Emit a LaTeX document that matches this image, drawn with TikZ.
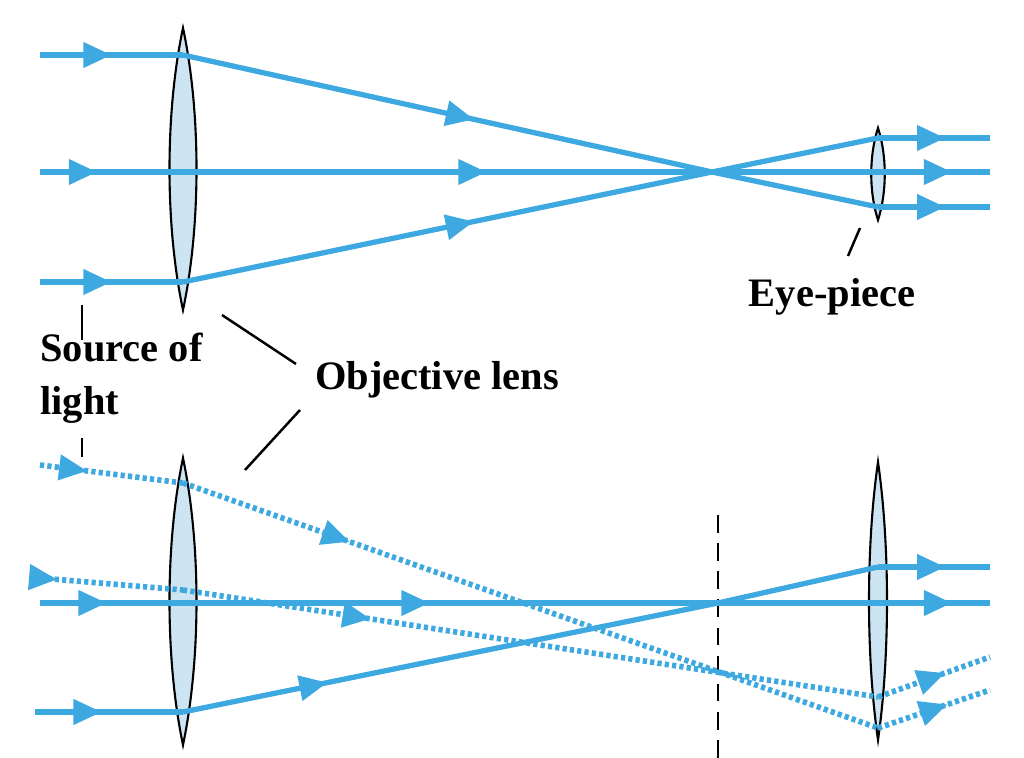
\documentclass[tikz,border=0pt]{standalone}
\usepackage{fontspec}
\setmainfont{Liberation Serif}
\usetikzlibrary{arrows.meta,decorations.markings}
\definecolor{raycol}{RGB}{62,168,224}
\definecolor{lensfill}{RGB}{205,228,242}
\tikzset{
    ray/.style={raycol,line width=1.5pt},
    dray/.style={raycol,line width=1.6pt,dash pattern=on 1.2pt off 0.9pt},
    arr/.style={postaction={decorate,decoration={markings,
        mark=at position #1 with {\arrow[raycol,solid]{Triangle[length=8pt,width=7pt]}}}}},
    lens/.style={draw=black,fill=lensfill,line width=0.6pt},
    lbl/.style={font=\fontsize{11.5}{13}\selectfont\bfseries,align=left},
    pointer/.style={black,line width=0.7pt}
}
\newcommand{\lensat}[4]{% x, top, bottom, half width
    \filldraw[lens] (#1,#2) .. controls (#1+#4,{#2+(#3-#2)*0.3}) and (#1+#4,{#2+(#3-#2)*0.7}) .. (#1,#3)
        .. controls (#1-#4,{#2+(#3-#2)*0.7}) and (#1-#4,{#2+(#3-#2)*0.3}) .. cycle;}
\begin{document}
\begin{tikzpicture}[x=0.01cm,y=-0.01cm]
        \useasboundingbox (0,0) rectangle (1024,758);
        % lenses
        \lensat{183}{28}{310}{18}
        \lensat{878}{128}{220}{9}
        \lensat{183}{458}{745}{18}
        \lensat{878}{462}{740}{12}
        \draw[black,line width=0.8pt,dash pattern=on 5pt off 3pt] (718,515)--(718,758);
        % top telescope
        \coordinate (t1) at (40,55);   \coordinate (l1) at (183,55);
        \coordinate (t2) at (40,172);
        \coordinate (t3) at (40,282);  \coordinate (l3) at (183,282);
        \coordinate (f)  at (712,172);
        \coordinate (e1) at (878,207); \coordinate (o1) at (990,207);
        \coordinate (e3) at (878,138); \coordinate (o3) at (990,138);
        \coordinate (o2) at (990,172);
        \begin{scope}[ray]
            \draw[arr=0.5] (t1)--(l1); \draw[arr=0.55] (l1)--(f); \draw (f)--(e1); \draw[arr=0.6] (e1)--(o1);
            \draw[arr=0.06] (t2)--(o2);
            \path[arr=0.47,arr=0.96] (t2)--(o2);
            \draw[arr=0.5] (t3)--(l3); \draw[arr=0.55] (l3)--(f); \draw (f)--(e3); \draw[arr=0.6] (e3)--(o3);
        \end{scope}
        % bottom telescope
        \coordinate (b1) at (40,603);  \coordinate (c1) at (990,603);
        \coordinate (b2) at (35,712);  \coordinate (m2) at (183,712);
        \coordinate (g)  at (718,603); \coordinate (n2) at (878,567); \coordinate (c2) at (990,567);
        \coordinate (d1) at (40,465);  \coordinate (p1) at (183,483);
        \coordinate (q1) at (878,728); \coordinate (r1) at (990,690);
        \coordinate (d2) at (40,578);  \coordinate (p2) at (183,590);
        \coordinate (q2) at (878,697); \coordinate (r2) at (990,657);
        \begin{scope}[ray]
            \draw[arr=0.07] (b1)--(c1);
            \path[arr=0.41,arr=0.96] (b1)--(c1);
            \draw[arr=0.45] (b2)--(m2); \draw[arr=0.27] (m2)--(g); \draw (g)--(n2); \draw[arr=0.6] (n2)--(c2);
        \end{scope}
        \begin{scope}[dray]
            \draw[arr=0.33] (d1)--(p1); \draw[arr=0.24] (p1)--(q1); \draw[arr=0.62] (q1)--(r1);
            \draw[arr=0.12] (d2)--(p2); \draw[arr=0.27] (p2)--(q2); \draw[arr=0.6] (q2)--(r2);
        \end{scope}
        % labels
        \node[lbl] (eye) at (832,297) {Eye-piece};
        \node[lbl,anchor=west] (src) at (28,378) {Source of\\[2pt]light};
        \node[lbl] (obj) at (437,380) {Objective lens};
        \coordinate (ep) at (860,228); \coordinate (eq) at (848,256);
        \draw[pointer] (ep)--(eq);
        \coordinate (s1) at (82,305); \coordinate (s0) at (82,340);
        \coordinate (s2) at (82,438); \coordinate (s3) at (82,457);
        \draw[pointer] (s1)--(s0);
        \draw[pointer] (s2)--(s3);
        \coordinate (ob1) at (222,315); \coordinate (ob3) at (296,364);
        \coordinate (ob2) at (245,470); \coordinate (ob4) at (300,410);
        \draw[pointer] (ob1)--(ob3);
        \draw[pointer] (ob2)--(ob4);
    \end{tikzpicture}
\end{document}
